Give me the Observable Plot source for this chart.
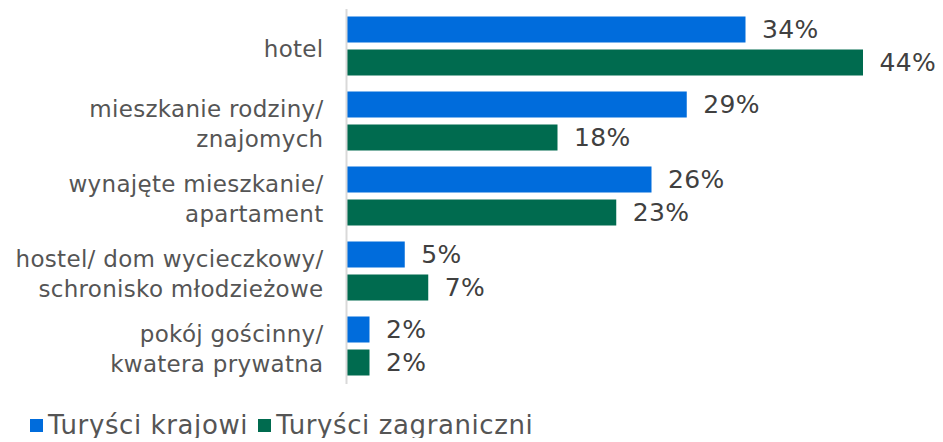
<!DOCTYPE html>
<html><head><meta charset="utf-8">
<script src="https://cdn.jsdelivr.net/npm/d3@7"></script>
<script src="https://cdn.jsdelivr.net/npm/@observablehq/plot@0.6"></script>
<style>
body{margin:0;background:#fff;font-family:"DejaVu Sans",sans-serif;}
#legend{display:flex;margin-left:30px;margin-top:22px;font-size:26px;letter-spacing:0.6px;color:#555;line-height:1;}
#legend span.item{display:flex;align-items:center;margin-right:10px;}
#legend span.sw{display:inline-block;width:13px;height:13px;margin-right:5px;}
</style></head>
<body>
<div id="chart"></div>
<div id="legend"></div>
<script>
const categories = ["hotel","mieszkanie rodziny/\nznajomych","wynajęte mieszkanie/\napartament","hostel/ dom wycieczkowy/\nschronisko młodzieżowe","pokój gościnny/\nkwatera prywatna"];
const seriesNames = ["Turyści krajowi","Turyści zagraniczni"];
const domestic = [34,29,26,5,2];
const foreign = [44,18,23,7,2];
const colors = ["#006cdc","#006b4f"];

const data = [];
categories.forEach((c,i)=>{
  data.push({cat:c, series:seriesNames[0], value:domestic[i]});
  data.push({cat:c, series:seriesNames[1], value:foreign[i]});
});

const chart = Plot.plot({
  width:943, height:390,
  marginLeft:346, marginRight:0, marginTop:7.5, marginBottom:5,
  style:{fontFamily:"'DejaVu Sans', sans-serif", color:"#404040", letterSpacing:"0.3px"},
  x:{domain:[0,50], range:[346, 346+50*11.75], axis:null},
  fy:{domain:categories, padding:0},
  y:{domain:seriesNames, paddingInner:0.21, paddingOuter:0.23, axis:null},
  color:{domain:seriesNames, range:colors},
  marks:[
    Plot.axisFy({anchor:"left", tickSize:0, tickPadding:23, fontSize:23, lineHeight:1.3, label:null, fill:"#555"}),
    Plot.barX(data,{fy:"cat", y:"series", x:"value", fill:"series"}),
    Plot.text(data,{fy:"cat", y:"series", x:"value", text:d=>d.value+"%", textAnchor:"start", dx:16, fontSize:25, fill:"#404040"}),
    Plot.ruleX([0],{stroke:"#d9d9d9", strokeWidth:2})
  ]
});
document.getElementById("chart").append(chart);

const lg = document.getElementById("legend");
seriesNames.forEach((s,i)=>{
  const it=document.createElement("span"); it.className="item";
  const sw=document.createElement("span"); sw.className="sw"; sw.style.background=colors[i];
  it.append(sw, document.createTextNode(s));
  lg.append(it);
});
</script>
</body></html>
